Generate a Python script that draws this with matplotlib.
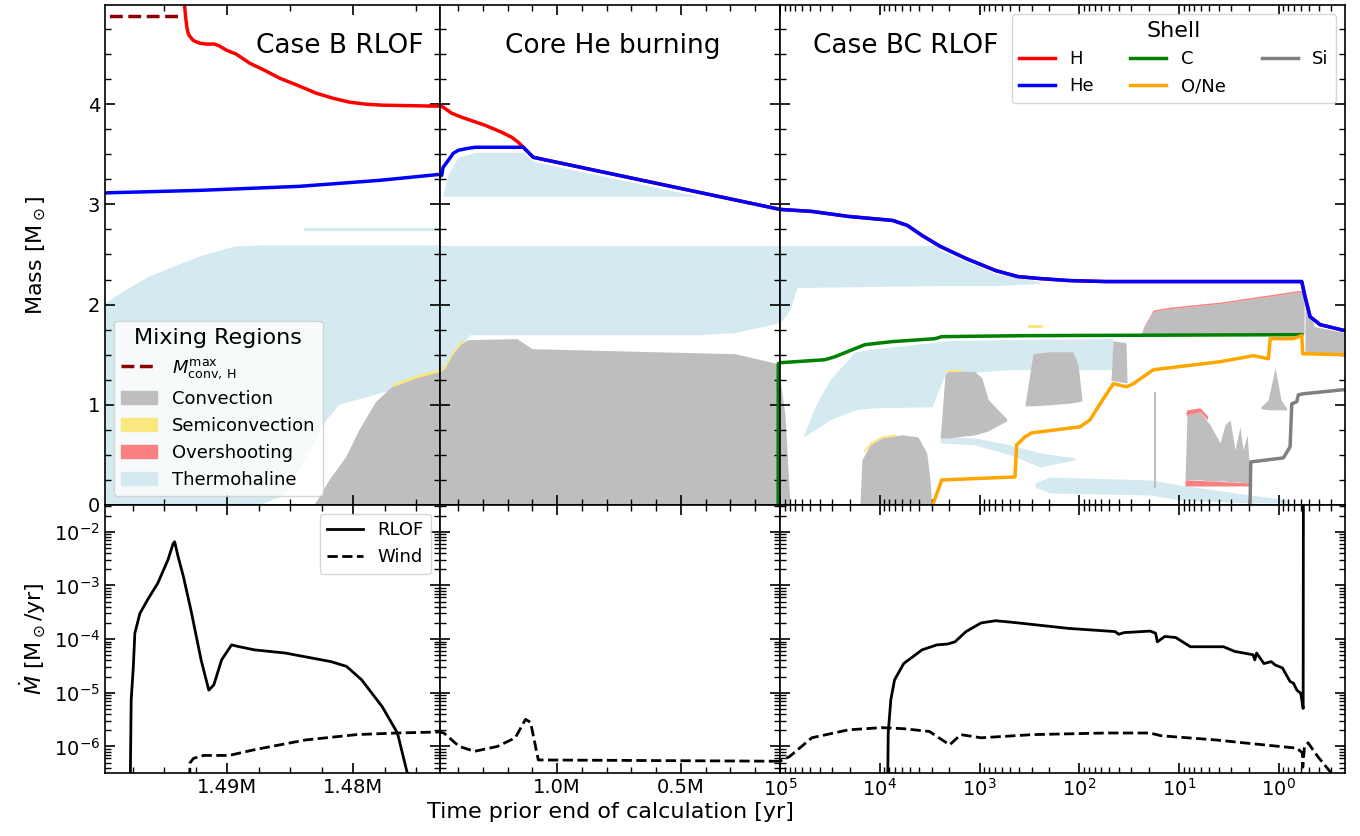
import numpy as np
import matplotlib
matplotlib.use('Agg')
import matplotlib.pyplot as plt
from matplotlib.lines import Line2D
from matplotlib.patches import Patch
from matplotlib.ticker import MultipleLocator, FuncFormatter, LogLocator, NullFormatter

# time prior to end of calculation [yr] for each panel
xlims = [(1.4997e6, 1.4731e6), (1.4731e6, 1.0e5), (1.0e5, 0.217)]
titles = ['Case B RLOF', 'Core He burning', 'Case BC RLOF']

# ---------------- shell boundaries [Msun] ----------------
mconv_t = [1.51e6, 1.4935e6]
mconv_m = [4.88, 4.88]

he_t = [1.4997e6, 1.4922e6, 1.4843e6, 1.4779e6, 1.4731e6, 1.4662e6, 1.4605e6, 1.4396e6,
        1.4194e6, 1.3992e6, 1.3588e6, 1.3318e6, 1.1367e6, 1.1165e6, 1.0963e6, 1.0e5,
        4.8e4, 2.06e4, 7430, 5284, 3767, 2466, 1365, 690, 415, 249, 127, 54, 0.589,
        0.546, 0.486, 0.386, 0.217]
he_m = [3.115, 3.14, 3.18, 3.24, 3.30, 3.29, 3.37, 3.44, 3.51, 3.54, 3.56, 3.57, 3.57,
        3.52, 3.47, 2.95, 2.93, 2.88, 2.84, 2.79, 2.69, 2.58, 2.46, 2.34, 2.28, 2.26,
        2.24, 2.23, 2.23, 2.08, 1.88, 1.80, 1.74]

h_env_t = [1.4936e6, 1.4933e6, 1.4932e6, 1.4931e6, 1.49298e6, 1.49272e6, 1.49259e6,
           1.49219e6, 1.49166e6, 1.4910e6, 1.4906e6, 1.49007e6, 1.48928e6, 1.48822e6,
           1.4869e6, 1.48584e6, 1.48425e6, 1.48293e6, 1.48161e6, 1.48028e6, 1.47896e6,
           1.47764e6, 1.4731e6, 1.4662e6, 1.4259e6, 1.3855e6, 1.2914e6, 1.2239e6,
           1.1835e6, 1.1569e6, 1.1367e6]
h_env_m = [5.30, 4.87, 4.77, 4.71, 4.68, 4.64, 4.63, 4.61, 4.60, 4.60, 4.58, 4.54, 4.50,
           4.41, 4.33, 4.26, 4.18, 4.11, 4.06, 4.02, 4.00, 3.99, 3.98, 3.98, 3.91, 3.87,
           3.79, 3.72, 3.67, 3.62, 3.57]

c_t = [1.075e5, 1.07e5, 1.0e5, 3.54e4, 2.81e4, 1.41e4, 7590, 2790, 2390, 350, 0.589]
c_m = [-0.1, 1.41, 1.42, 1.45, 1.48, 1.60, 1.63, 1.66, 1.68, 1.69, 1.70]

one_t = [2950, 2900, 2390, 441, 424, 350, 300, 98.2, 78.0, 61.9, 45.6, 33.5, 28.7, 18.1,
         8.37, 3.88, 1.80, 1.27, 1.22, 0.714, 0.589, 0.575, 0.227, 0.217]
one_m = [-0.1, 0.02, 0.25, 0.28, 0.60, 0.68, 0.72, 0.78, 0.85, 1.01, 1.21, 1.18, 1.21,
         1.35, 1.39, 1.43, 1.49, 1.46, 1.66, 1.66, 1.69, 1.51, 1.50, 1.50]

si_t = [1.95, 1.94, 1.91, 0.90, 0.771, 0.741, 0.661, 0.637, 0.567, 0.227, 0.217]
si_m = [-0.1, 0.02, 0.43, 0.47, 0.58, 1.01, 1.03, 1.10, 1.11, 1.15, 1.15]

# ---------------- mixing regions: (time, lower, upper) ----------------
thermo_regions = [
    ([1.4998e6, 1.4985e6, 1.4962e6, 1.4922e6, 1.4894e6, 1.4874e6, 1.4854e6, 1.4843e6,
      1.4821e6, 1.4811e6, 1.4771e6, 1.4743e6, 1.4731e6, 1.4529e6, 1.3519e6, 4.23e5,
      2.82e5, 1.0e5, 7.94e4, 6.76e4, 2667, 2466, 690, 249],
     [0, 0, 0, 0, 0, 0, 0.10, 0.35, 0.85, 1.00, 1.14, 1.29, 1.33, 1.38, 1.70, 1.70, 1.72,
      1.82, 1.95, 2.17, 2.19, 2.19, 2.19, 2.21],
     [2.00, 2.11, 2.28, 2.48, 2.58, 2.59, 2.59, 2.59, 2.59, 2.59, 2.59, 2.59, 2.59, 2.59,
      2.59, 2.59, 2.59, 2.59, 2.59, 2.59, 2.59, 2.54, 2.31, 2.23]),
    ([1.4839e6, 1.4731e6], [2.73, 2.73], [2.76, 2.76]),
    ([1.4610e6, 1.4408e6, 1.4004e6, 1.3318e6, 1.1379e6, 1.0975e6, 4.27e5],
     [3.08, 3.08, 3.08, 3.08, 3.08, 3.08, 3.08],
     [3.10, 3.30, 3.47, 3.52, 3.52, 3.43, 3.08]),
    ([5.88e4, 4.46e4, 3.16e4, 1.77e4, 1.117e4, 2993, 2217, 542, 45.9],
     [0.68, 0.75, 0.85, 0.95, 0.97, 0.98, 1.30, 1.35, 1.35],
     [0.68, 0.98, 1.25, 1.53, 1.56, 1.62, 1.64, 1.65, 1.66]),
    ([2477, 1110, 494, 247, 110],
     [0.62, 0.60, 0.50, 0.38, 0.45],
     [0.68, 0.67, 0.60, 0.52, 0.47]),
    ([278, 196, 19.5, 9.8, 1.94, 0.77],
     [0.18, 0.12, 0.10, 0.05, 0.02, 0.02],
     [0.22, 0.28, 0.25, 0.20, 0.10, 0.05]),
]

conv_regions = [
    ([1.48306e6, 1.48187e6, 1.48055e6, 1.47949e6, 1.47817e6, 1.47688e6, 1.47473e6, 1.4731e6,
      1.4529e6, 1.4246e6, 1.3923e6, 1.3600e6, 1.1621e6, 1.1016e6, 2.818e5, 1.081e5, 1.0e5,
      8.91e4, 7.94e4],
     [0] * 19,
     [0, 0.25, 0.48, 0.75, 1.03, 1.18, 1.28, 1.33, 1.37, 1.50, 1.60, 1.65, 1.66, 1.56, 1.51,
      1.41, 1.25, 0.90, 0.0]),
    ([1.578e4, 1.51e4, 1.254e4, 9.55e3, 6.03e3, 4.14e3, 3.38e3, 3.13e3, 3.01e3],
     [0] * 9,
     [0, 0.45, 0.60, 0.67, 0.70, 0.68, 0.52, 0.25, 0]),
    ([2477, 2217, 2055, 1110, 950, 816, 533],
     [0.67, 0.67, 0.67, 0.70, 0.72, 0.74, 0.84],
     [0.67, 1.30, 1.34, 1.33, 1.27, 1.05, 0.86]),
    ([350, 291, 196, 116, 103, 93.8],
     [0.99, 0.99, 1.00, 1.02, 1.03, 1.04],
     [1.00, 1.51, 1.53, 1.53, 1.40, 1.05]),
    ([48.1, 45.9, 34.0, 33.2], [1.24, 1.24, 1.22, 1.22], [1.24, 1.64, 1.62, 1.22]),
    ([24.0, 23.0, 18.2, 12.3, 3.88, 0.589, 0.558],
     [1.71] * 7,
     [1.71, 1.75, 1.93, 1.96, 2.01, 2.13, 2.10]),
    ([0.546, 0.44, 0.217], [1.53, 1.52, 1.52], [2.05, 1.78, 1.72]),
    ([8.71, 8.32, 6.15, 4.89, 3.88, 3.46, 3.08, 2.75, 2.45, 2.28, 2.08, 1.94],
     [0.25, 0.25, 0.25, 0.24, 0.24, 0.24, 0.23, 0.23, 0.23, 0.22, 0.22, 0.22],
     [0.25, 0.90, 0.93, 0.80, 0.62, 0.80, 0.85, 0.55, 0.78, 0.55, 0.70, 0.30]),
    ([1.51, 1.28, 1.09, 0.95, 0.83], [0.96, 0.95, 0.95, 0.95, 0.95],
     [0.98, 1.05, 1.37, 1.05, 0.96]),
    ([17.8, 17.2], [0.17, 0.17], [1.13, 1.13]),
]

semi_regions = [
    ([1.47688e6, 1.47473e6, 1.4731e6, 1.4529e6, 1.4246e6, 1.3923e6, 1.3700e6],
     [1.18, 1.28, 1.33, 1.37, 1.50, 1.60, 1.64],
     [1.21, 1.31, 1.36, 1.40, 1.53, 1.63, 1.65]),
    ([1.45e4, 1.254e4, 9.55e3, 7.0e3], [0.52, 0.60, 0.67, 0.69], [0.55, 0.63, 0.69, 0.71]),
    ([2100, 1500], [1.33, 1.33], [1.35, 1.35]),
    ([330, 230], [1.77, 1.77], [1.80, 1.80]),
]

over_regions = [
    ([23.0, 18.2, 12.3, 3.88, 0.589], [1.75, 1.93, 1.96, 2.01, 2.13],
     [1.765, 1.945, 1.975, 2.025, 2.145]),
    ([8.71, 4.89, 1.94], [0.19, 0.19, 0.19], [0.25, 0.24, 0.22]),
    ([8.5, 8.32, 6.15, 5.2], [0.88, 0.90, 0.93, 0.85], [0.93, 0.95, 0.97, 0.89]),
]

# ---------------- mass loss rates [Msun/yr] ----------------
rlof_b_t = [1.49776e6, 1.49762e6, 1.49745e6, 1.49733e6, 1.49693e6, 1.49632e6, 1.49551e6,
            1.4947e6, 1.49429e6, 1.49417e6, 1.49389e6, 1.49348e6, 1.49288e6, 1.49207e6,
            1.49146e6, 1.49106e6, 1.49044e6, 1.48965e6, 1.48903e6, 1.48783e6, 1.48539e6,
            1.48175e6, 1.48052e6, 1.47932e6, 1.47769e6, 1.47648e6, 1.47567e6, 1.4755e6]
rlof_b = [1e-8, 7.4e-6, 3.1e-5, 1.29e-4, 3.0e-4, 5.4e-4, 1.1e-3, 3.0e-3, 6.0e-3, 6.5e-3,
          3.4e-3, 1.48e-3, 3.5e-4, 4.1e-5, 1.12e-5, 1.4e-5, 4.1e-5, 7.8e-5, 7.2e-5, 6.3e-5,
          5.5e-5, 3.8e-5, 3.1e-5, 1.74e-5, 5.5e-6, 1.78e-6, 3.0e-7, 1e-8]

rlof_bc_t = [8460, 8230, 7745, 7110, 5754, 3767, 2679, 2080, 1762, 1365, 966, 690, 451, 127,
             43.7, 40.2, 35.6, 19.5, 17.2, 16.5, 13.9, 10.8, 7.69, 3.58, 2.77, 1.81, 1.74,
             1.67, 1.41, 1.19, 1.09, 0.92, 0.771, 0.713, 0.66, 0.603, 0.57, 0.566]
rlof_bc = [1e-8, 1.78e-6, 7.4e-6, 1.74e-5, 3.5e-5, 6.3e-5, 7.8e-5, 8.1e-5, 8.9e-5, 1.38e-4,
           2.0e-4, 2.2e-4, 2.04e-4, 1.58e-4, 1.38e-4, 1.23e-4, 1.32e-4, 1.41e-4, 1.29e-4,
           8.9e-5, 1.12e-4, 1.07e-4, 7.2e-5, 7.2e-5, 5.9e-5, 5.1e-5, 4.1e-5, 5.5e-5, 3.5e-5,
           3.8e-5, 3.3e-5, 2.9e-5, 1.62e-5, 1.51e-5, 1.12e-5, 9.8e-6, 5.1e-6, 1.0]

wind_t = [1.4930e6, 1.49296e6, 1.49267e6, 1.49187e6, 1.48984e6, 1.48783e6, 1.48378e6,
          1.47973e6, 1.47648e6, 1.47324e6, 1.4574e6, 1.3956e6, 1.3338e6, 1.2413e6, 1.1690e6,
          1.1278e6, 1.1072e6, 1.0761e6, 1.0e5, 8.0e4, 4.8e4, 2.06e4, 9.57e3, 5754, 3178,
          1995, 1542, 966, 295, 54, 19.5, 15.1, 4.26, 1.81, 0.66, 0.58, 0.575, 0.553, 0.509,
          0.402, 0.306, 0.25]
wind = [1e-8, 4.9e-7, 6.0e-7, 6.8e-7, 6.8e-7, 8.7e-7, 1.32e-6, 1.66e-6, 1.78e-6, 1.86e-6,
        1.78e-6, 1.0e-6, 8.1e-7, 1.0e-6, 1.45e-6, 3.2e-6, 2.8e-6, 5.6e-7, 5.3e-7, 6.5e-7,
        1.45e-6, 2.04e-6, 2.24e-6, 2.14e-6, 1.9e-6, 1.07e-6, 1.66e-6, 1.45e-6, 1.66e-6,
        1.78e-6, 1.78e-6, 1.58e-6, 1.32e-6, 1.12e-6, 9.3e-7, 7.6e-7, 4.1e-7, 9.8e-7,
        1.17e-6, 6.3e-7, 3.4e-7, 1e-7]

# H shell sits on the He shell once the envelope is gone
he_t_arr = np.array(he_t)
keep = he_t_arr < h_env_t[-1]
h_t = np.concatenate([h_env_t, he_t_arr[keep]])
h_m = np.concatenate([h_env_m, np.array(he_m)[keep]])

conv_c = '#bebebe'
semi_c = '#f9e77f'
over_c = '#f88080'
thermo_c = '#d4eaf0'
lw = 2.5

fig = plt.figure(figsize=(13.6, 8.36), dpi=100)
gs = fig.add_gridspec(2, 3, width_ratios=[335, 340, 565], height_ratios=[500, 268],
                      left=105 / 1360, right=1345 / 1360, top=1 - 5 / 836,
                      bottom=1 - 773 / 836, wspace=0, hspace=0)
axes = np.array([[fig.add_subplot(gs[r, c]) for c in range(3)] for r in range(2)])
for r in range(2):
    axes[r, 2].set_xscale('log')

# Kippenhahn panels
for ax in axes[0]:
    for t, lo, hi in thermo_regions:
        ax.fill_between(t, lo, hi, color=thermo_c, lw=0)
    for t, lo, hi in conv_regions:
        ax.fill_between(t, lo, hi, color=conv_c, lw=0)
    for t, lo, hi in semi_regions:
        ax.fill_between(t, lo, hi, color=semi_c, lw=0)
    for t, lo, hi in over_regions:
        ax.fill_between(t, lo, hi, color=over_c, lw=0)
    ax.plot(mconv_t, mconv_m, ls='--', color='darkred', lw=lw)
    ax.plot(h_t, h_m, color='red', lw=lw)
    ax.plot(he_t, he_m, color='blue', lw=lw)
    ax.plot(c_t, c_m, color='green', lw=lw)
    ax.plot(one_t, one_m, color='orange', lw=lw)
    ax.plot(si_t, si_m, color='gray', lw=lw)
    ax.set_ylim(0, 4.99)
    ax.yaxis.set_major_locator(MultipleLocator(1))
    ax.yaxis.set_minor_locator(MultipleLocator(0.25))

# mass loss panels
for ax in axes[1]:
    ax.plot(rlof_b_t, rlof_b, color='black', lw=2)
    ax.plot(rlof_bc_t, rlof_bc, color='black', lw=2)
    ax.plot(wind_t, wind, color='black', ls='--', lw=2)
    ax.set_yscale('log')
    ax.set_ylim(3.2e-7, 3.15e-2)
    ax.yaxis.set_major_locator(LogLocator(base=10, numticks=20))
    ax.yaxis.set_minor_locator(LogLocator(base=10, subs=np.arange(2, 10), numticks=20))
    ax.yaxis.set_minor_formatter(NullFormatter())

for c in range(3):
    for r in range(2):
        axes[r, c].set_xlim(*xlims[c])

axes[0, 0].xaxis.set_major_locator(MultipleLocator(1e4))
axes[0, 0].xaxis.set_minor_locator(MultipleLocator(5e3))
axes[1, 0].xaxis.set_major_locator(MultipleLocator(1e4))
axes[1, 0].xaxis.set_minor_locator(MultipleLocator(2.5e3))
axes[1, 0].xaxis.set_major_formatter(FuncFormatter(lambda v, p: f'{v / 1e6:.2f}M'))
for r in range(2):
    axes[r, 1].xaxis.set_major_locator(MultipleLocator(5e5))
    axes[r, 1].xaxis.set_minor_locator(MultipleLocator(1e5))
    axes[r, 2].xaxis.set_major_locator(LogLocator(base=10, numticks=20))
    axes[r, 2].xaxis.set_minor_locator(LogLocator(base=10, subs=np.arange(2, 10), numticks=20))
    axes[r, 2].xaxis.set_minor_formatter(NullFormatter())
axes[1, 1].xaxis.set_major_formatter(FuncFormatter(lambda v, p: f'{v / 1e6:.1f}M'))

for ax in axes.flat:
    ax.tick_params(which='both', direction='in', top=True, right=True, labelsize=14)
    ax.tick_params(which='major', length=7, width=1.2)
    ax.tick_params(which='minor', length=4, width=1.0)
    for s in ax.spines.values():
        s.set_linewidth(1.2)
for ax in axes[0]:
    ax.tick_params(labelbottom=False)
for ax in axes[:, 1:].flat:
    ax.tick_params(labelleft=False)

title_pos = [0.70, 0.507, 0.222]
for ax, x, title in zip(axes[0], title_pos, titles):
    ax.text(x, 0.918, title, transform=ax.transAxes, ha='center', va='center', fontsize=19)

axes[0, 0].set_ylabel(r'Mass [M$_\odot$]', fontsize=16)
axes[1, 0].set_ylabel(r'$\dot{M}$ [M$_\odot$/yr]', fontsize=16)
axes[1, 1].set_xlabel('Time prior end of calculation [yr]', fontsize=16)
fig.align_ylabels(axes[:, 0])

mix_handles = [Line2D([], [], color='darkred', ls='--', lw=lw),
               Patch(color=conv_c), Patch(color=semi_c), Patch(color=over_c),
               Patch(color=thermo_c)]
mix_labels = [r'$M^{\rm max}_{\rm conv,\,H}$', 'Convection', 'Semiconvection',
              'Overshooting', 'Thermohaline']
axes[0, 0].legend(mix_handles, mix_labels, title='Mixing Regions', loc='lower left',
                  fontsize=13, title_fontsize=16)

shell_names = ['H', 'He', 'C', 'O/Ne', 'Si']
shell_colors = ['red', 'blue', 'green', 'orange', 'gray']
shell_handles = [Line2D([], [], color=c, lw=lw) for c in shell_colors]
axes[0, 2].legend(shell_handles, shell_names, title='Shell', loc='upper right', ncol=3,
                  fontsize=13, title_fontsize=16, columnspacing=2.0)

mdot_handles = [Line2D([], [], color='black', lw=2),
                Line2D([], [], color='black', ls='--', lw=2)]
axes[1, 0].legend(mdot_handles, ['RLOF', 'Wind'], loc='upper right', fontsize=13)

plt.savefig('out.png', dpi=100)
